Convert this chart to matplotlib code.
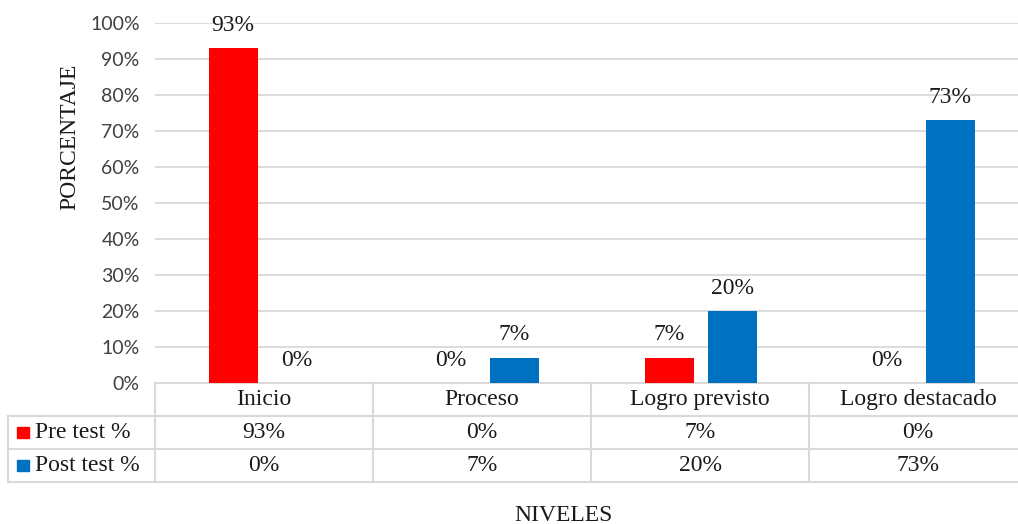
import matplotlib
matplotlib.use("Agg")
import matplotlib.pyplot as plt
from matplotlib.lines import Line2D
from matplotlib.patches import Rectangle
from matplotlib.transforms import blended_transform_factory
from matplotlib.ticker import MultipleLocator, FuncFormatter

categories = ["Inicio", "Proceso", "Logro previsto", "Logro destacado"]
series_names = ["Pre test %", "Post test %"]
pre_test = [93, 0, 7, 0]
post_test = [0, 7, 20, 73]
series_values = [pre_test, post_test]
colors = ["#FF0000", "#0070C0"]

W, H = 1018, 524
fig = plt.figure(figsize=(W / 100, H / 100), dpi=100)

def fy(py):
    return 1 - py / H

def fx(px):
    return px / W

left_px, right_px, top_px, bottom_px = 155, 1027, 23, 383
ax = fig.add_axes([fx(left_px), fy(bottom_px), fx(right_px - left_px), (bottom_px - top_px) / H])

serif = "Liberation Serif"
sans = "Lato"
grid_c = "#D9D9D9"
text_c = "#1a1a1a"

bar_w = 0.225
offsets = [-0.142, 0.148]
xs = range(len(categories))
for vals, off, col in zip(series_values, offsets, colors):
    bars = ax.bar([x + off for x in xs], vals, width=bar_w, color=col, zorder=3)
    ax.bar_label(bars, labels=[f"{v}%" for v in vals], padding=9,
                 fontsize=17, family=serif, color=text_c)

ax.set_xlim(-0.5, 3.5)
ax.set_ylim(0, 100)
ax.yaxis.set_major_locator(MultipleLocator(10))
ax.yaxis.set_major_formatter(FuncFormatter(lambda v, p: f"{int(v)}%"))
ax.set_xticks([])
ax.tick_params(axis="y", length=0, pad=11, labelsize=14, labelcolor="#404040")
for lab in ax.get_yticklabels():
    lab.set_family(sans)
ax.grid(axis="y", color=grid_c, linewidth=1.3, zorder=0)
for s in ["top", "right", "left"]:
    ax.spines[s].set_visible(False)
ax.spines["bottom"].set_color(grid_c)
ax.spines["bottom"].set_linewidth(1.5)

# data table under the plot
tr = blended_transform_factory(ax.transData, fig.transFigure)
row_y = [383, 416, 449, 482]
lw = 1.5

for py in row_y[1:]:
    fig.add_artist(Line2D([fx(8), 1.02], [fy(py), fy(py)], transform=fig.transFigure,
                          color=grid_c, linewidth=lw))
fig.add_artist(Line2D([fx(155), fx(155)], [fy(383), fy(482)], transform=fig.transFigure,
                      color=grid_c, linewidth=lw))
fig.add_artist(Line2D([fx(8), fx(8)], [fy(416), fy(482)], transform=fig.transFigure,
                      color=grid_c, linewidth=lw))
for i in range(1, len(categories)):
    xb = i - 0.5
    fig.add_artist(Line2D([xb, xb], [fy(383), fy(482)], transform=tr,
                          color=grid_c, linewidth=lw))

cell_fs = 17
for i, cat in enumerate(categories):
    fig.text(i, fy((row_y[0] + row_y[1]) / 2), cat, transform=tr, ha="center", va="center",
             fontsize=cell_fs, family=serif, color=text_c)
for r, (name, vals, col) in enumerate(zip(series_names, series_values, colors)):
    yc = (row_y[r + 1] + row_y[r + 2]) / 2
    for i, v in enumerate(vals):
        fig.text(i, fy(yc), f"{v}%", transform=tr, ha="center", va="center",
                 fontsize=cell_fs, family=serif, color=text_c)
    fig.add_artist(Rectangle((fx(17), fy(yc + 5.5)), fx(12), 11 / H,
                             transform=fig.transFigure, color=col))
    fig.text(fx(35), fy(yc), name, ha="left", va="center",
             fontsize=cell_fs, family=serif, color=text_c)

fig.text(fx(564), fy(521), "NIVELES", ha="center", va="baseline",
         fontsize=17, family=serif, color=text_c)
fig.text(fx(70), fy(137), "PORCENTAJE", ha="center", va="center", rotation=90,
         fontsize=17, family=serif, color=text_c)

fig.savefig("out.png", dpi=100)
